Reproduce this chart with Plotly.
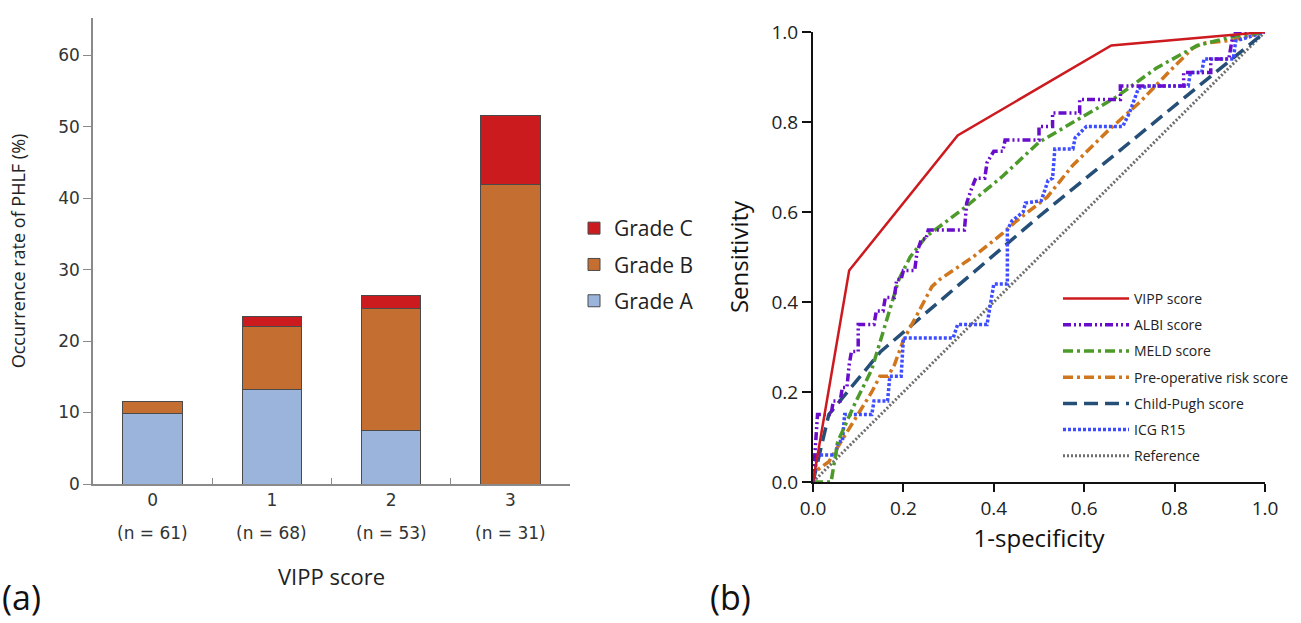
import plotly.graph_objects as go

# ---------------- Panel (a) data ----------------
vipp_categories = ["0", "1", "2", "3"]
vipp_n_labels = ["(n = 61)", "(n = 68)", "(n = 53)", "(n = 31)"]
grade_a = [9.8, 13.2, 7.5, 0.0]
grade_b = [1.7, 8.8, 17.0, 41.9]
grade_c = [0.0, 1.5, 1.9, 9.7]

# ---------------- Panel (b) data ----------------
vipp_fpr = [0, 0.08, 0.32, 0.66, 1.0]
vipp_tpr = [0, 0.47, 0.77, 0.97, 1.0]

albi_fpr = [0, 0.01, 0.04, 0.045, 0.06, 0.065, 0.075, 0.08, 0.085, 0.10, 0.10, 0.135, 0.14, 0.155,
            0.16, 0.18, 0.185, 0.195, 0.2, 0.225, 0.23, 0.24, 0.25, 0.255, 0.335, 0.34, 0.35, 0.36,
            0.38, 0.385, 0.40, 0.42, 0.425, 0.50, 0.50, 0.53, 0.53, 0.59, 0.59, 0.68, 0.68, 0.82,
            0.82, 0.88, 0.88, 0.92, 0.93, 1.0]
albi_tpr = [0, 0.15, 0.15, 0.18, 0.18, 0.21, 0.21, 0.26, 0.29, 0.29, 0.35, 0.35, 0.38, 0.38,
            0.41, 0.41, 0.45, 0.45, 0.47, 0.47, 0.51, 0.54, 0.54, 0.56, 0.56, 0.62, 0.65, 0.675,
            0.675, 0.71, 0.735, 0.735, 0.76, 0.76, 0.79, 0.79, 0.82, 0.82, 0.85, 0.85, 0.88, 0.88,
            0.91, 0.91, 0.94, 0.94, 1.0, 1.0]

meld_fpr = [0, 0.04, 0.055, 0.093, 0.13, 0.16, 0.19, 0.215, 0.25, 0.336, 0.42, 0.50, 0.575,
            0.67, 0.76, 0.85, 0.93, 1.0]
meld_tpr = [0, 0.0, 0.09, 0.175, 0.25, 0.35, 0.45, 0.5, 0.545, 0.61, 0.68, 0.755, 0.80,
            0.855, 0.92, 0.97, 0.99, 1.0]

preop_fpr = [0, 0.0, 0.01, 0.035, 0.055, 0.093, 0.13, 0.148, 0.166, 0.18, 0.2, 0.232, 0.263,
             0.28, 0.354, 0.42, 0.45, 0.518, 0.575, 0.65, 0.723, 0.796, 0.84, 0.863, 0.93, 1.0]
preop_tpr = [0, 0.015, 0.027, 0.045, 0.078, 0.14, 0.2, 0.235, 0.235, 0.26, 0.315, 0.375, 0.434,
             0.45, 0.5, 0.553, 0.58, 0.633, 0.704, 0.778, 0.844, 0.92, 0.964, 0.975, 0.982, 1.0]

cp_fpr = [0, 0.035, 0.15, 0.5, 1.0]
cp_tpr = [0, 0.15, 0.29, 0.59, 1.0]

icg_fpr = [0, 0.005, 0.01, 0.05, 0.055, 0.065, 0.07, 0.13, 0.135, 0.165, 0.17, 0.195, 0.2, 0.31,
           0.32, 0.385, 0.39, 0.40, 0.43, 0.43, 0.44, 0.465, 0.47, 0.505, 0.52, 0.53, 0.535,
           0.575, 0.58, 0.605, 0.685, 0.70, 0.72, 0.745, 0.83, 0.835, 0.86, 0.865, 0.93, 0.935, 1.0]
icg_tpr = [0, 0.03, 0.06, 0.06, 0.09, 0.09, 0.15, 0.15, 0.18, 0.18, 0.235, 0.235, 0.32, 0.32,
           0.35, 0.35, 0.38, 0.44, 0.44, 0.56, 0.58, 0.60, 0.62, 0.625, 0.67, 0.675, 0.74,
           0.74, 0.765, 0.79, 0.79, 0.82, 0.875, 0.88, 0.88, 0.91, 0.91, 0.94, 0.94, 0.98, 1.0]

ref_fpr = [0, 1.0]
ref_tpr = [0, 1.0]

roc_names = ["VIPP score", "ALBI score", "MELD score", "Pre-operative risk score",
             "Child-Pugh score", "ICG R15", "Reference"]
grade_names = ["Grade C", "Grade B", "Grade A"]  # legend order, top to bottom

fig = go.Figure()

# ---------------- Panel (a) bars ----------------
bar_line = dict(color="#4a4a4a", width=1)
for name, vals, col in [("Grade A", grade_a, "#9BB4DC"),
                        ("Grade B", grade_b, "#C46F31"),
                        ("Grade C", grade_c, "#CB1B1E")]:
    fig.add_trace(go.Bar(x=vipp_categories, y=vals, name=name, marker=dict(color=col, line=bar_line),
                         width=0.5, xaxis="x", yaxis="y", legend="legend", legendgroup=name,
                         legendrank=grade_names.index(name) + 1))

# ---------------- Panel (b) ROC ----------------
roc_specs = [
    (ref_fpr, ref_tpr, "Reference", "#6e6e6e", "2px,2px", 3),
    (cp_fpr, cp_tpr, "Child-Pugh score", "#264F78", "14px,7px", 3.5),
    (preop_fpr, preop_tpr, "Pre-operative risk score", "#D0761C", "10px,4px,3px,4px", 3.5),
    (icg_fpr, icg_tpr, "ICG R15", "#3D4DFF", "3px,2px", 3.5),
    (meld_fpr, meld_tpr, "MELD score", "#4C9A2A", "10px,4px,3px,4px", 3.5),
    (albi_fpr, albi_tpr, "ALBI score", "#6A0CCB", "8px,3px,2px,3px,2px,3px", 3.5),
    (vipp_fpr, vipp_tpr, "VIPP score", "#CC1A1F", "solid", 2.5),
]
for fx, fy, name, col, dash, w in roc_specs:
    fig.add_trace(go.Scatter(x=fx, y=fy, mode="lines", name=name,
                             line=dict(color=col, dash=dash, width=w),
                             xaxis="x2", yaxis="y2", legend="legend2", legendgroup=name,
                             legendrank=roc_names.index(name) + 1))

W, H = 1301, 623
def px_x(p):
    return p / W
def px_y(p):
    return (H - p) / H

left_font = "DejaVu Sans"
right_font = "Open Sans"

fig.update_layout(
    width=W, height=H,
    margin=dict(l=0, r=0, t=0, b=0, autoexpand=False),
    paper_bgcolor="white", plot_bgcolor="white",
    barmode="stack",
    showlegend=True,
    xaxis=dict(domain=[px_x(93), px_x(570)], type="category", range=[-0.5, 3.5], automargin=False,
               showline=True, linecolor="#8a8a8a", linewidth=1.5,
               ticks="inside", tickson="boundaries", ticklen=6, tickcolor="#8a8a8a",
               tickfont=dict(family=left_font, size=17, color="#333333"),
               title=dict(text="VIPP score", font=dict(family=right_font, size=22, color="#222222"),
                          standoff=60),
               showgrid=False, zeroline=False, anchor="y"),
    yaxis=dict(domain=[px_y(484), px_y(18)], range=[0, 65.2], automargin=False,
               showline=True, linecolor="#8a8a8a", linewidth=1.5,
               ticks="outside", ticklen=8, tickcolor="#8a8a8a",
               tickvals=[0, 10, 20, 30, 40, 50, 60],
               tickfont=dict(family=left_font, size=17, color="#333333"),
               title=dict(text="Occurrence rate of PHLF (%)",
                          font=dict(family=right_font, size=18, color="#222222"), standoff=28),
               showgrid=False, zeroline=False, anchor="x"),
    xaxis2=dict(domain=[px_x(813), px_x(1265)], range=[0, 1], automargin=False,
                showline=True, linecolor="#111111", linewidth=2,
                ticks="outside", ticklen=8, tickwidth=2, tickcolor="#111111",
                tickvals=[0, 0.2, 0.4, 0.6, 0.8, 1.0], tickformat=".1f",
                tickfont=dict(family=right_font, size=19, color="#222222"),
                title=dict(text="1-specificity", font=dict(family=right_font, size=24, color="#111111"),
                           standoff=10),
                showgrid=False, zeroline=False, anchor="y2"),
    yaxis2=dict(domain=[px_y(482), px_y(32)], range=[0, 1], automargin=False,
                showline=True, linecolor="#111111", linewidth=2,
                ticks="outside", ticklen=9, tickwidth=2, tickcolor="#111111",
                tickvals=[0, 0.2, 0.4, 0.6, 0.8, 1.0], tickformat=".1f",
                tickfont=dict(family=right_font, size=19, color="#222222"),
                title=dict(text="Sensitivity", font=dict(family=right_font, size=24, color="#111111"),
                           standoff=16),
                showgrid=False, zeroline=False, anchor="x2"),
    legend=dict(x=px_x(574), y=px_y(208), xanchor="left", yanchor="top",
                traceorder="grouped", tracegroupgap=6,
                font=dict(family=right_font, size=21, color="#222222"),
                bgcolor="rgba(0,0,0,0)", itemwidth=30),
    legend2=dict(x=px_x(1058), y=px_y(283), xanchor="left", yanchor="top",
                 traceorder="grouped", tracegroupgap=5,
                 font=dict(family=right_font, size=14, color="#222222"),
                 bgcolor="rgba(0,0,0,0)", itemwidth=66),
)

# n labels under category ticks
for cat, lab in zip(vipp_categories, vipp_n_labels):
    fig.add_annotation(x=cat, y=px_y(533), xref="x", yref="paper", text=lab, showarrow=False,
                       font=dict(family=left_font, size=17, color="#333333"), yanchor="middle")

# panel letters
fig.add_annotation(x=px_x(0), y=px_y(622), xref="paper", yref="paper", text="(a)", showarrow=False,
                   xanchor="left", yanchor="bottom", font=dict(family=right_font, size=34, color="#111111"))
fig.add_annotation(x=px_x(708), y=px_y(622), xref="paper", yref="paper", text="(b)", showarrow=False,
                   xanchor="left", yanchor="bottom", font=dict(family=right_font, size=34, color="#111111"))

fig.write_html("out.html", config={"displayModeBar": False},
               post_script="document.body.style.margin='0px';document.body.style.overflow='hidden';")
